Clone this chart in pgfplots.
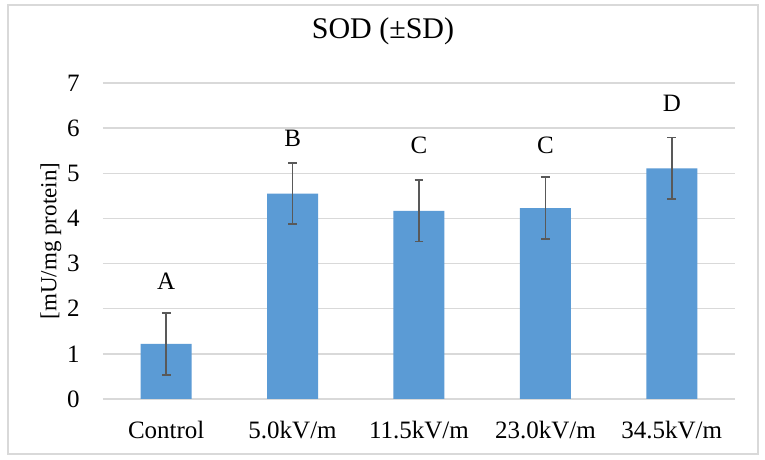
\documentclass[border=0pt]{standalone}
\usepackage{pgfplots}
\pgfplotsset{compat=1.18}
\usepackage{pgfplotstable}
\usepackage{fontspec}
\setmainfont{Liberation Serif}
\definecolor{barblue}{HTML}{5B9BD5}
\definecolor{errgrey}{HTML}{595959}
\definecolor{gridgrey}{HTML}{D9D9D9}

\pgfplotstableread{
x mean sd
0 1.22 0.69
1 4.55 0.675
2 4.17 0.685
3 4.23 0.685
4 5.11 0.68
}\sod

\pgfplotstableread{
x pos label
0 2.60 A
1 5.77 B
2 5.63 C
3 5.63 C
4 6.56 D
}\letters

\begin{document}
\begin{tikzpicture}
\useasboundingbox (0,0) rectangle (382.5pt,230pt);
\fill[white] (0,0) rectangle (382.5pt,230pt);
\draw[gridgrey, line width=0.75pt] (4pt,3pt) rectangle (379pt,227.5pt);
\begin{axis}[
  scale only axis,
  width=316pt, height=158pt,
  at={(51.5pt,30.5pt)}, anchor=south west,
  xmin=-0.5, xmax=4.5,
  ymin=0, ymax=7,
  xtick={0,1,2,3,4},
  xticklabels={Control,5.0kV/m,11.5kV/m,23.0kV/m,34.5kV/m},
  ytick={0,1,2,3,4,5,6,7},
  major tick length=0pt,
  axis line style={draw=none},
  ymajorgrids,
  grid style={gridgrey, line width=0.75pt},
  /pgf/number format/assume math mode=true,
  tick label style={font=\fontsize{12.5}{15}\selectfont, inner sep=0pt},
  xticklabel style={anchor=base, yshift=-19.75pt},
  yticklabel style={anchor=east, xshift=-11.5pt},
  ylabel={[mU/mg protein]},
  ylabel style={at={(axis description cs:0,0.5)}, anchor=center, yshift=26pt, font=\fontsize{11.5}{14}\selectfont},
  title={SOD (±SD)},
  title style={at={(axis description cs:0.5,1)}, anchor=base, yshift=16.5pt, xshift=-18pt, font=\fontsize{15}{18}\selectfont},
  clip=false,
]
\addplot[ybar, bar width=25.5pt, fill=barblue, draw=none,
  error bars/.cd, y dir=both, y explicit,
  error bar style={errgrey, line width=0.8pt},
  error mark options={errgrey, line width=0.8pt, mark size=2.2pt, rotate=90}]
  table[x=x, y=mean, y error=sd] {\sod};
\addplot[draw=none, mark=none, nodes near coords, point meta=explicit symbolic,
  nodes near coords style={anchor=center, font=\fontsize{12.5}{15}\selectfont, inner sep=0pt}]
  table[x=x, y=pos, meta=label] {\letters};
\end{axis}
\end{tikzpicture}
\end{document}
